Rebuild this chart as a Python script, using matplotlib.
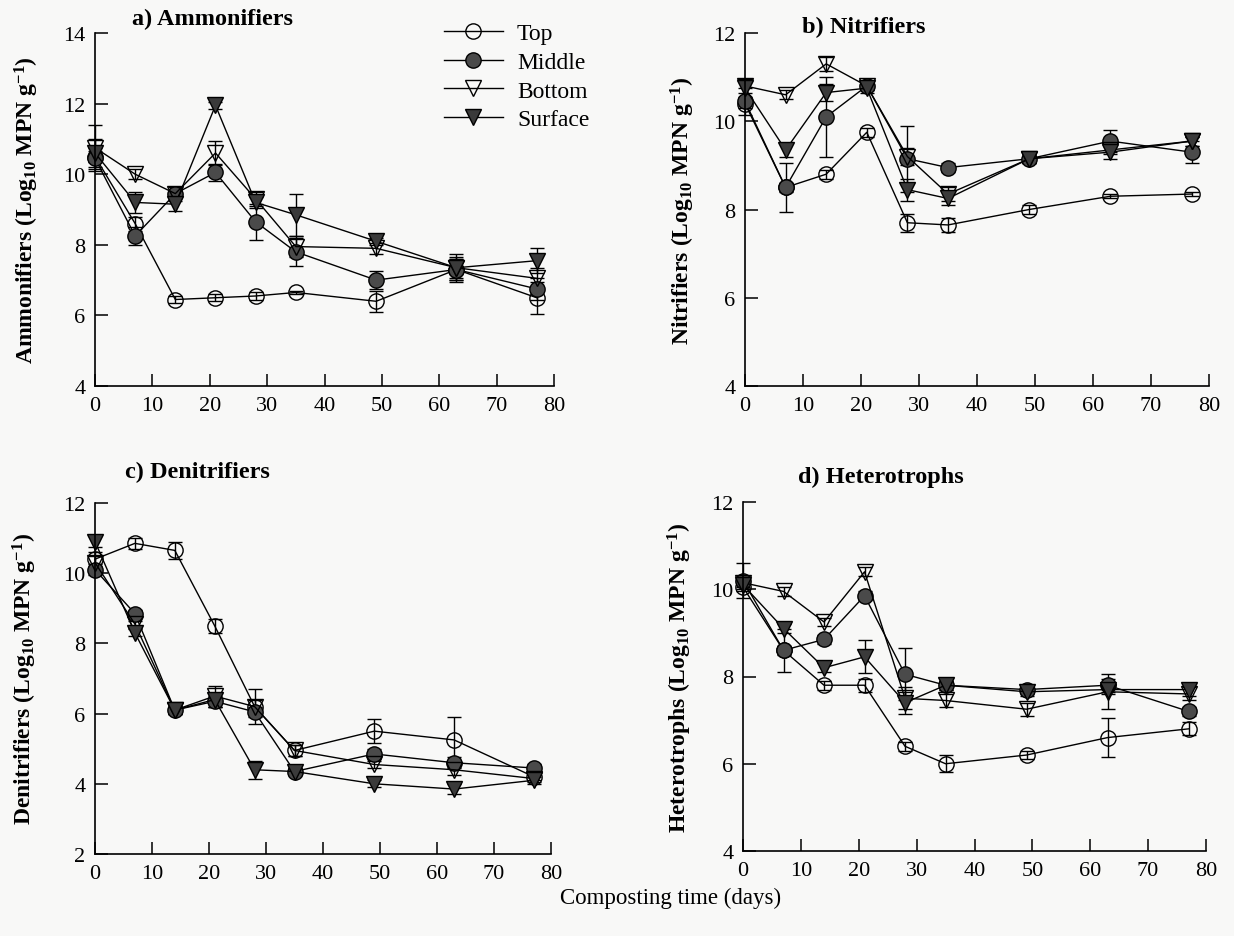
import numpy as np
import matplotlib.pyplot as plt
from matplotlib.lines import Line2D

plt.rcParams['font.family'] = ['Liberation Serif', 'DejaVu Serif']
plt.rcParams['mathtext.fontset'] = 'custom'
plt.rcParams['mathtext.rm'] = 'Liberation Serif:bold'
plt.rcParams['mathtext.default'] = 'rm'

days = [0, 7, 14, 21, 28, 35, 49, 63, 77]
series_names = ['Top', 'Middle', 'Bottom', 'Surface']

# a) Ammonifiers
top_a = [10.5, 8.6, 6.45, 6.5, 6.55, 6.65, 6.4, 7.3, 6.5]
mid_a = [10.45, 8.25, 9.45, 10.05, 8.65, 7.8, 7.0, 7.3, 6.75]
bot_a = [10.75, 10.0, 9.45, 10.6, 9.3, 7.95, 7.9, 7.35, 7.05]
sur_a = [10.6, 9.2, 9.15, 11.95, 9.2, 8.85, 8.1, 7.35, 7.55]
top_a_err = [0.15, 0.2, 0.1, 0.1, 0.1, 0.05, 0.3, 0.3, 0.45]
mid_a_err = [0.3, 0.25, 0.2, 0.25, 0.5, 0.4, 0.25, 0.3, 0.3]
bot_a_err = [0.65, 0.15, 0.1, 0.35, 0.2, 0.3, 0.15, 0.4, 0.3]
sur_a_err = [0.4, 0.3, 0.2, 0.1, 0.15, 0.6, 0.1, 0.3, 0.35]

# b) Nitrifiers
top_b = [10.4, 8.5, 8.8, 9.75, 7.7, 7.65, 8.0, 8.3, 8.35]
mid_b = [10.45, 8.5, 10.1, 10.8, 9.15, 8.95, 9.15, 9.55, 9.3]
bot_b = [10.8, 10.6, 11.3, 10.8, 9.2, 8.35, 9.15, 9.35, 9.55]
sur_b = [10.75, 9.35, 10.65, 10.75, 8.45, 8.25, 9.15, 9.3, 9.55]
top_b_err = [0.1, 0.1, 0.1, 0.1, 0.2, 0.15, 0.1, 0.05, 0.05]
mid_b_err = [0.3, 0.55, 0.9, 0.1, 0.75, 0.1, 0.1, 0.25, 0.25]
bot_b_err = [0.15, 0.1, 0.15, 0.1, 0.2, 0.15, 0.1, 0.1, 0.1]
sur_b_err = [0.2, 0.15, 0.2, 0.1, 0.25, 0.15, 0.1, 0.15, 0.1]

# c) Denitrifiers
top_c = [10.4, 10.85, 10.65, 8.5, 6.2, 4.95, 5.5, 5.25, 4.2]
mid_c = [10.1, 8.85, 6.1, 6.35, 6.05, 4.35, 4.85, 4.6, 4.45]
bot_c = [10.3, 8.55, 6.1, 6.5, 6.2, 4.95, 4.55, 4.4, 4.15]
sur_c = [10.9, 8.3, 6.1, 6.4, 4.4, 4.35, 4.0, 3.85, 4.1]
top_c_err = [0.2, 0.15, 0.25, 0.2, 0.2, 0.15, 0.35, 0.65, 0.1]
mid_c_err = [0.15, 0.1, 0.1, 0.15, 0.15, 0.1, 0.15, 0.15, 0.1]
bot_c_err = [0.2, 0.1, 0.1, 0.3, 0.5, 0.15, 0.1, 0.15, 0.1]
sur_c_err = [0.15, 0.1, 0.1, 0.2, 0.25, 0.1, 0.1, 0.15, 0.1]

# d) Heterotrophs
top_d = [10.05, 8.6, 7.8, 7.8, 6.4, 6.0, 6.2, 6.6, 6.8]
mid_d = [10.2, 8.6, 8.85, 9.85, 8.05, 7.8, 7.7, 7.8, 7.2]
bot_d = [10.15, 9.95, 9.25, 10.4, 7.5, 7.45, 7.25, 7.65, 7.6]
sur_d = [10.1, 9.1, 8.2, 8.45, 7.4, 7.8, 7.65, 7.7, 7.7]
top_d_err = [0.1, 0.1, 0.1, 0.15, 0.1, 0.2, 0.1, 0.45, 0.15]
mid_d_err = [0.4, 0.5, 0.1, 0.1, 0.6, 0.1, 0.1, 0.15, 0.1]
bot_d_err = [0.1, 0.1, 0.1, 0.1, 0.25, 0.15, 0.15, 0.4, 0.15]
sur_d_err = [0.1, 0.1, 0.1, 0.38, 0.25, 0.1, 0.1, 0.1, 0.15]

styles = {
	'Top': dict(marker='o', mfc='none'),
	'Middle': dict(marker='o', mfc='#4a4a4a'),
	'Bottom': dict(marker='v', mfc='none'),
	'Surface': dict(marker='v', mfc='#3a3a3a'),
}

def drawPanel(ax, vals, errs, ylim, ylabel, title, title_pos, label_x):
	for name, v, e in zip(series_names, vals, errs):
		st = styles[name]
		cont = ax.errorbar(days, v, yerr=e, color='black', lw=1.0, marker=st['marker'],
			ms=11, mfc=st['mfc'], mec='black', mew=1.0, capsize=5, elinewidth=1.0, capthick=1.0)
		cont.lines[0].set_clip_on(False)
		for c in cont.lines[1]:
			c.set_clip_on(False)
		for c in cont.lines[2]:
			c.set_clip_on(False)
	ax.set_xlim(0, 80)
	ax.set_ylim(*ylim)
	ax.set_xticks(range(0, 81, 10))
	ax.set_yticks(range(ylim[0], ylim[1] + 1, 2))
	ax.spines['top'].set_visible(False)
	ax.spines['right'].set_visible(False)
	for s in ['left', 'bottom']:
		ax.spines[s].set_linewidth(1.2)
	ax.tick_params(direction='in', length=9, width=1.1, labelsize=16, pad=7)
	ax.set_ylabel(ylabel, fontsize=17, fontweight='bold')
	# label x is the right edge of the rotated text, y at the axes centre
	bb = ax.get_position()
	ax.yaxis.set_label_coords(label_x, bb.y0 + bb.height / 2, transform=fig.transFigure)
	ax.set_facecolor('none')
	fig.text(title_pos[0], title_pos[1], title, fontsize=17.5, fontweight='bold', ha='left', va='center')

fig = plt.figure(figsize=(12.34, 9.37), dpi=100)
fig.patch.set_facecolor('#f8f8f7')
W, H = 1234.0, 937.0

def px_axes(l, t, r, b):
	return fig.add_axes([l / W, 1 - b / H, (r - l) / W, (b - t) / H])

ax_a = px_axes(95, 34, 554, 387)
ax_b = px_axes(745, 34, 1209, 387)
ax_c = px_axes(95, 504, 551, 855)
ax_d = px_axes(743, 503, 1206, 852)

drawPanel(ax_a, [top_a, mid_a, bot_a, sur_a], [top_a_err, mid_a_err, bot_a_err, sur_a_err],
	(4, 14), r'Ammonifiers (Log$_{10}$ MPN g$^{-1}$)', 'a) Ammonifiers', (132 / W, 1 - 19 / H), 41 / W)
drawPanel(ax_b, [top_b, mid_b, bot_b, sur_b], [top_b_err, mid_b_err, bot_b_err, sur_b_err],
	(4, 12), r'Nitrifiers (Log$_{10}$ MPN g$^{-1}$)', 'b) Nitrifiers', (802 / W, 1 - 27 / H), 697 / W)
drawPanel(ax_c, [top_c, mid_c, bot_c, sur_c], [top_c_err, mid_c_err, bot_c_err, sur_c_err],
	(2, 12), r'Denitrifiers (Log$_{10}$ MPN g$^{-1}$)', 'c) Denitrifiers', (125 / W, 1 - 472 / H), 39 / W)
drawPanel(ax_d, [top_d, mid_d, bot_d, sur_d], [top_d_err, mid_d_err, bot_d_err, sur_d_err],
	(4, 12), r'Heterotrophs (Log$_{10}$ MPN g$^{-1}$)', 'd) Heterotrophs', (798 / W, 1 - 477 / H), 694 / W)

handles = []
for name in series_names:
	st = styles[name]
	handles.append(Line2D([], [], color='black', lw=1.0, marker=st['marker'], ms=11,
		mfc=st['mfc'], mec='black', mew=1.0))
ax_a.legend(handles, series_names, loc='upper left', bbox_to_anchor=(432 / W, 1 - 12 / H),
	bbox_transform=fig.transFigure, frameon=False, fontsize=17, handlelength=2.5,
	handletextpad=0.6, labelspacing=0.3, borderpad=0)

fig.text(671 / W, 1 - 898 / H, 'Composting time (days)', fontsize=16.5, ha='center', va='center')

plt.savefig('out.png', dpi=100, facecolor=fig.get_facecolor())
